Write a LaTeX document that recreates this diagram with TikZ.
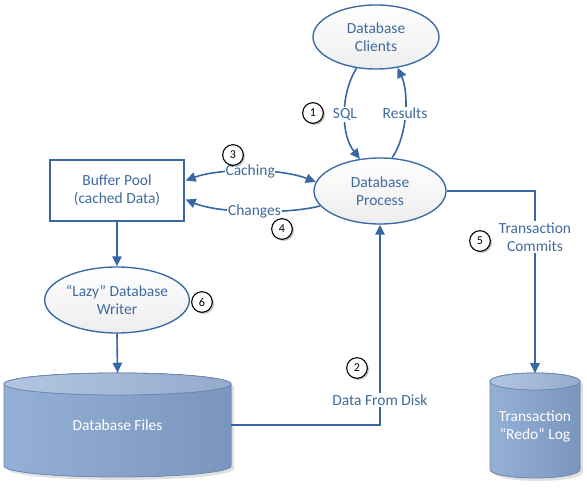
\documentclass[tikz,border=0pt]{standalone}
\usepackage{fontspec}
\setmainfont{Carlito}
\usetikzlibrary{shapes.geometric,arrows.meta,calc,shadows}
\definecolor{lblue}{HTML}{3768A5}
\definecolor{tblue}{HTML}{3F6B9E}
\definecolor{cylA}{HTML}{95B0D5}
\definecolor{cylB}{HTML}{7B96BE}
\definecolor{cylTopA}{HTML}{B3C6E0}
\definecolor{cylTopB}{HTML}{94ABCD}
\definecolor{cylEdge}{HTML}{6D8CB6}
\begin{document}
\begin{tikzpicture}[x=0.75pt,y=-0.75pt,
 every node/.style={font=\fontsize{11.6}{13.5}\selectfont, text=tblue},
 proc/.style={ellipse, draw=lblue, line width=1pt, top color=white, bottom color=black!7, inner sep=0pt, align=center},
 box/.style={rectangle, draw=lblue, line width=1pt, fill=white, align=center, minimum width=100.5pt, minimum height=45.75pt, inner sep=0pt},
 conn/.style={draw=lblue, line width=1.2pt},
 arr/.style={conn, -{Triangle[length=7.5pt,width=7pt]}},
 darr/.style={conn, {Triangle[length=7.5pt,width=7pt]}-{Triangle[length=7.5pt,width=7pt]}},
 lbl/.style={fill=white, inner sep=1pt, align=center},
 num/.style={circle, draw=black, line width=0.8pt, fill=white, minimum size=15.5pt, inner sep=0pt, text=black, font=\fontsize{9}{10}\selectfont, drop shadow={shadow xshift=1.2pt, shadow yshift=-1.2pt, opacity=0.25, fill=black}},
 cyltext/.style={text=white, align=center, inner sep=0pt}]
\fill[white] (0,0) rectangle (587,488);
\useasboundingbox (0,0) rectangle (587,488);

% cylinders
\fill[black, opacity=0.12] (7,387) -- (7,469) arc[start angle=180,end angle=360,x radius=85.125pt,y radius=8.25pt] -- (234,387) arc[start angle=0,end angle=180,x radius=85.125pt,y radius=8.25pt] -- cycle;
\filldraw[left color=cylA, right color=cylB, draw=cylEdge, line width=0.6pt] (4,384) -- (4,466) arc[start angle=180,end angle=360,x radius=85.125pt,y radius=8.25pt] -- (231,384) arc[start angle=0,end angle=180,x radius=85.125pt,y radius=8.25pt] -- cycle;
\filldraw[left color=cylTopA, right color=cylTopB, draw=cylEdge, line width=0.6pt] (117.5,384) ellipse[x radius=85.125pt, y radius=8.25pt];
\node[cyltext, minimum width=170.25pt, minimum height=78pt] (dbfiles) at (117.5,425) {Database Files};

\fill[black, opacity=0.12] (493,384.5) -- (493,472.5) arc[start angle=180,end angle=360,x radius=33.75pt,y radius=6.375pt] -- (583,384.5) arc[start angle=0,end angle=180,x radius=33.75pt,y radius=6.375pt] -- cycle;
\filldraw[left color=cylA, right color=cylB, draw=cylEdge, line width=0.6pt] (490,381.5) -- (490,469.5) arc[start angle=180,end angle=360,x radius=33.75pt,y radius=6.375pt] -- (580,381.5) arc[start angle=0,end angle=180,x radius=33.75pt,y radius=6.375pt] -- cycle;
\filldraw[left color=cylTopA, right color=cylTopB, draw=cylEdge, line width=0.6pt] (535,381.5) ellipse[x radius=33.75pt, y radius=6.375pt];
\node[cyltext, minimum width=67.5pt, minimum height=78.75pt] (redo) at (535,426) {Transaction\\“Redo” Log};

% main nodes
\node[proc, minimum width=94.5pt, minimum height=48pt] (clients) at (376,37) {Database\\Clients};
\node[proc, minimum width=99pt, minimum height=49.5pt] (process) at (380,191) {Database\\Process};
\node[box] (buffer) at (117,190.5) {Buffer Pool\\(cached Data)};
\node[proc, minimum width=100.5pt, minimum height=49.5pt] (writer) at (117,300) {“Lazy” Database\\Writer};

% connectors
\draw[arr] (clients.238) .. controls (340,95) and (341,135) .. node[lbl, midway] (sql) {SQL} (process.122);
\draw[arr] (process.70) .. controls (408,135) and (409,92) .. node[lbl, midway] (res) {Results} (clients.305);
\draw[darr] ($(buffer.east)+(1,-10)$) .. controls (220,168) and (280,168) .. node[lbl, midway, inner sep=0.5pt] (cach) {Caching} (process.172);
\draw[arr] (process.194) .. controls (290,214) and (220,214) .. node[lbl, midway, inner sep=0.5pt] (chg) {Changes} ($(buffer.east)+(1,9)$);
\draw[arr] (buffer.south) -- (writer.north);
\draw[arr] (writer.south) -- (dbfiles.north);
\draw[arr] (dbfiles.east) -| node[lbl, pos=0.562] (dfd) {Data From Disk} (process.south);
\draw[arr] (process.east) -| node[lbl, pos=0.626] (tc) {Transaction\\Commits} (redo.north);

% numbers
\node[num] (n1) at (313,113) {1};
\node[num] (n2) at (357,368) {2};
\node[num] (n3) at (233,155) {3};
\node[num] (n4) at (282,229) {4};
\node[num] (n5) at (480,241) {5};
\node[num] (n6) at (202,302) {6};
\end{tikzpicture}
\end{document}
